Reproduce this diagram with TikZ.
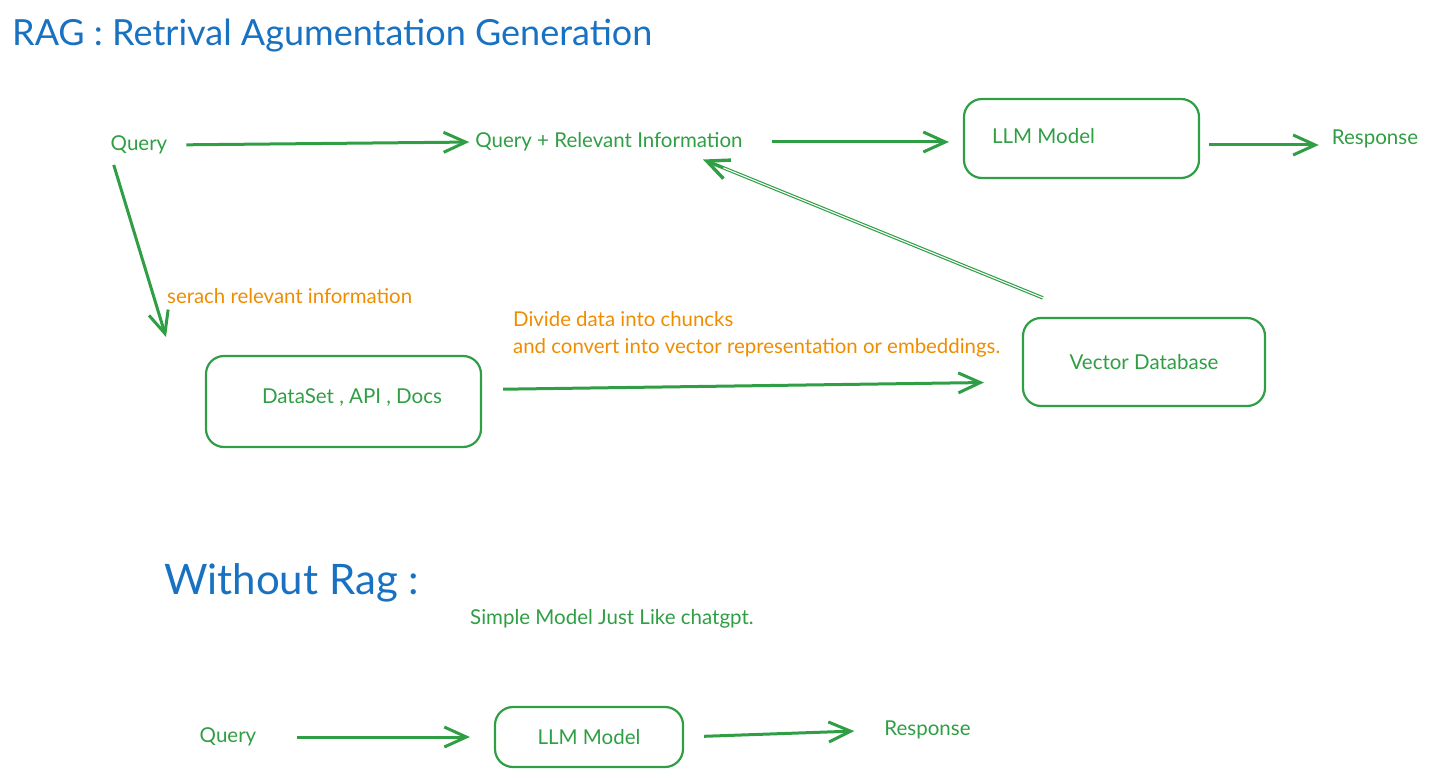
\documentclass[tikz,border=0pt]{standalone}
\usepackage{fontspec}
\setmainfont{Lato}
\usetikzlibrary{arrows.meta}
\definecolor{Rag-green}{RGB}{47,158,68}
\definecolor{Rag-orange}{RGB}{240,140,0}
\definecolor{Rag-blue}{RGB}{25,113,194}
\tikzset{ txt/.style  ={text=Rag-green,  inner sep=0pt, font=\fontsize{20.5}{24}\selectfont} }
\tikzset{ note/.style ={text=Rag-orange, inner sep=0pt, font=\fontsize{20.4}{27}\selectfont, align=left} }
\tikzset{ head/.style ={text=Rag-blue,   inner sep=0pt, font=\fontsize{36}{42}\selectfont} }
\tikzset{ box/.style  ={draw=Rag-green, line width=2.2pt, rounded corners=18pt, text=Rag-green, font=\fontsize{20.5}{24}\selectfont} }
\tikzset{ flow/.style ={draw=Rag-green, line width=3pt} }
\tikzset{ split/.style={line width=3.4pt, postaction={draw=white, line width=1.1pt, shorten >=22pt, -}} }

\begin{document}
\begin{tikzpicture}[x=1pt, y=-1pt, >={Straight Barb[length=22pt,width=20pt]}]
    \useasboundingbox (0,0) rectangle (1434,778);

    \node[head, anchor=west] (title) at (12,36) {RAG : Retrival Agumentation Generation};

    \node[txt] (q_top)    at ( 139,145) {Query};
    \node[txt] (qri)      at ( 609,142) {Query + Relevant Information};
    \node[box, minimum width=235, minimum height=79] (llm_top) at (1081.5,138.5) {};
    \node[txt] (llm_top_t) at (1043.5,136) {LLM Model};
    \node[txt] (resp_top) at (1375,139) {Response};

    \draw[->, flow, shorten <=19pt, shorten >=6pt ] (q_top.east) -- (qri.west);
    \draw[->, flow, shorten <=29pt, shorten >=14pt] (qri.east) -- (qri.east -| llm_top.west);
    \draw[->, flow, shorten <=9pt,  shorten >=13pt] ([yshift=-6pt]resp_top.west -| llm_top.east) -- ([yshift=-6pt]resp_top.west);

    \node[note, anchor=west] (lbl_search) at (167,296) {serach relevant information};
    \coordinate (search_end) at (166,337);
    \draw[->, flow, shorten <=11pt] (q_top.south west) -- (search_end);

    \node[box, minimum width=275, minimum height=91] (data) at (343.5,401.5) {};
    \node[txt] (data_t) at (352,397) {DataSet , API , Docs};
    \node[box, minimum width=242, minimum height=88] (vdb) at (1144,362) {Vector Database};

    \node[note, anchor=west] (lbl_divide) at (513,334.5) {Divide data into chuncks\\and convert into vector representation or embeddings.};

    \draw[->, flow, shorten <=21pt, shorten >=38pt] ([yshift=12pt]data.east) -- ([yshift=-20pt]vdb.west);
    \draw[->, flow, split] ([xshift=21pt,yshift=19pt]vdb.north west) -- ([xshift=94pt,yshift=-8pt]qri.south);

    \node[head, anchor=west, font=\fontsize{42}{48}\selectfont] (norag) at (164,583) {Without Rag :};
    \node[txt, anchor=west] (simple) at (470,619) {Simple Model Just Like chatgpt.};

    \node[txt] (q_bot) at (228,737) {Query};
    \node[box, minimum width=188, minimum height=60] (llm_bot) at (589,737) {LLM Model};
    \node[txt] (resp_bot) at (927.5,730) {Response};

    \draw[->, flow, shorten <=41pt, shorten >=24pt] (q_bot.east) -- (q_bot.east -| llm_bot.west);
    \draw[->, flow, shorten <=20pt, shorten >=30pt] (llm_bot.east) -- (resp_bot.west);
\end{tikzpicture}
\end{document}
